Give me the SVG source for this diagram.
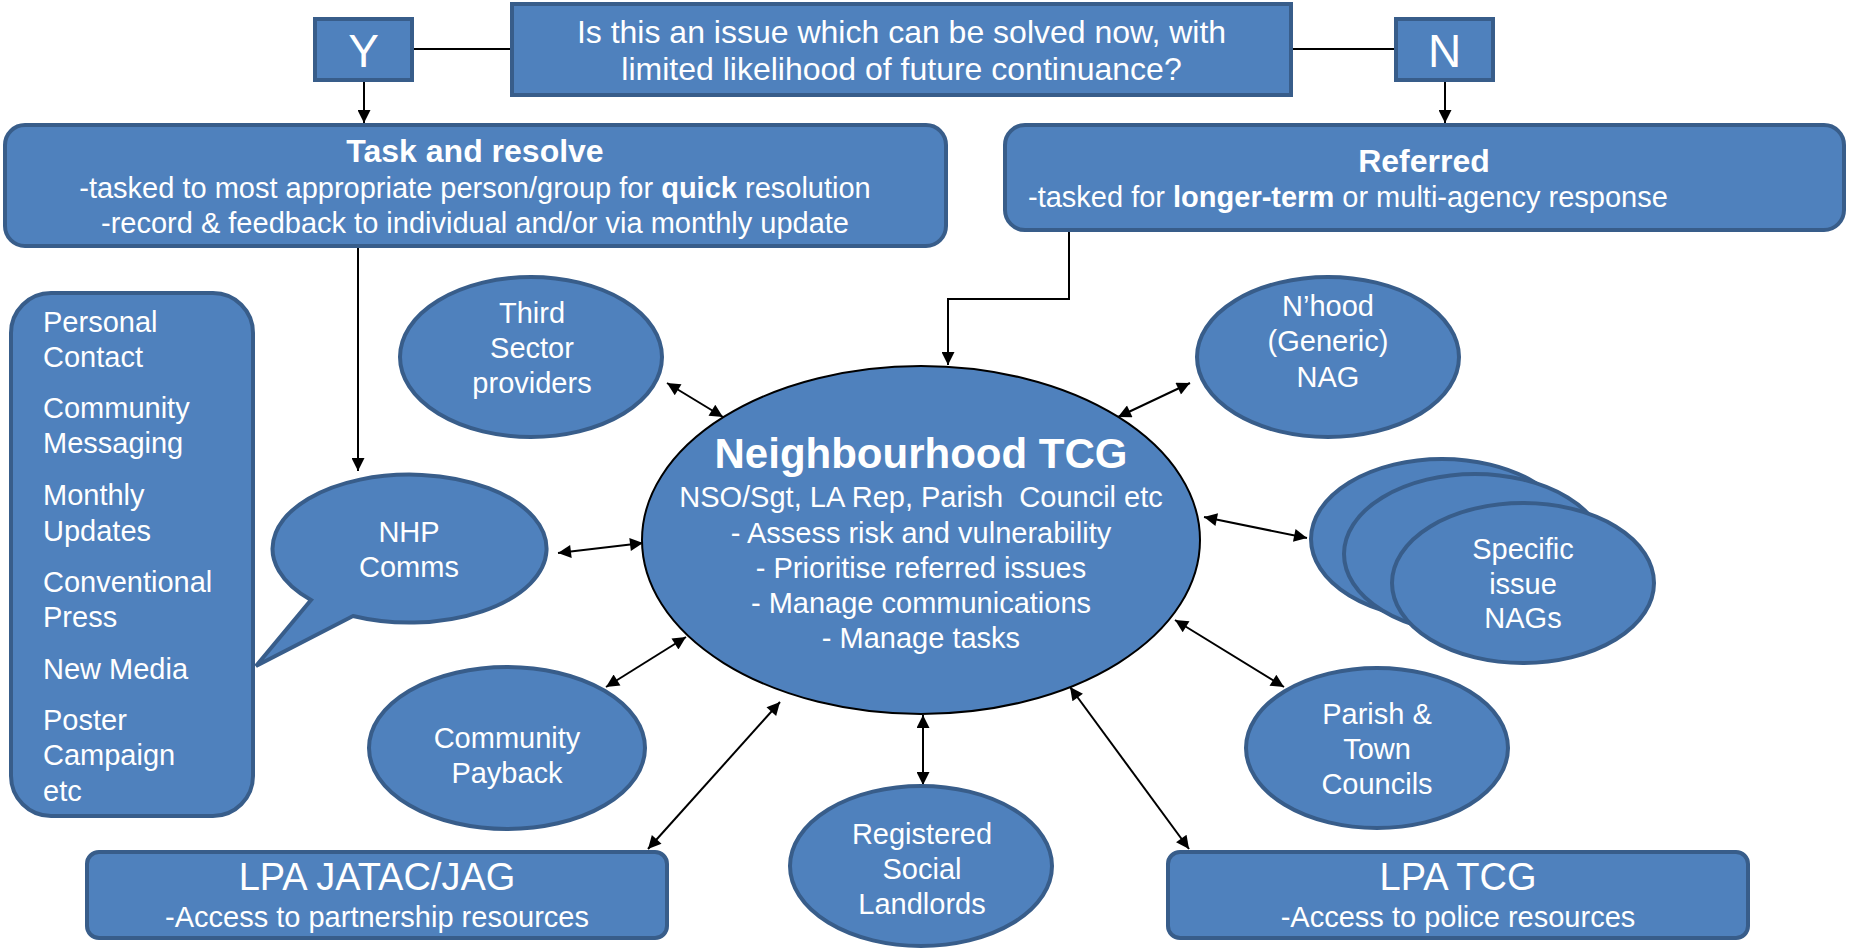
<svg xmlns="http://www.w3.org/2000/svg" width="1853" height="949" viewBox="0 0 1853 949">
<style>
.n{fill:#4F81BD;stroke:#385D8A;stroke-width:4}
.t{fill:#FFFFFF;font-family:"Liberation Sans",Arial,sans-serif;font-size:29px}
.c{text-anchor:middle}
.b{font-weight:bold}
.h{font-weight:bold;font-size:32px}
.ln{stroke:#000;stroke-width:2;fill:none}
.a{marker-end:url(#ah)}
.d{marker-start:url(#ah);marker-end:url(#ah)}
</style>
<defs>
<marker id="ah" viewBox="0 0 10 10" refX="10" refY="5" markerWidth="16" markerHeight="13" markerUnits="userSpaceOnUse" orient="auto-start-reverse">
<path d="M0,0 L10,5 L0,10 z" fill="#000"/>
</marker>
</defs>
<rect width="1853" height="949" fill="#FFFFFF"/>
<g id="connectors">
<line class="ln" x1="414" y1="49" x2="510" y2="49"/>
<line class="ln" x1="1293" y1="49" x2="1394" y2="49"/>
<line class="ln a" x1="364" y1="82" x2="364" y2="123"/>
<line class="ln a" x1="1445" y1="82" x2="1445" y2="123"/>
<line class="ln a" x1="358" y1="248" x2="358" y2="471"/>
<polyline class="ln a" points="1069,231 1069,299 948,299 948,365"/>
<line class="ln d" x1="667" y1="383" x2="723" y2="417"/>
<line class="ln d" x1="1190" y1="383" x2="1118" y2="417"/>
<line class="ln d" x1="558" y1="553" x2="643" y2="543"/>
<line class="ln d" x1="1204" y1="517" x2="1307" y2="538"/>
<line class="ln d" x1="686" y1="637" x2="606" y2="687"/>
<line class="ln d" x1="1175" y1="620" x2="1284" y2="687"/>
<line class="ln d" x1="780" y1="702" x2="648" y2="849"/>
<line class="ln d" x1="923" y1="715" x2="923" y2="785"/>
<line class="ln d" x1="1070" y1="687" x2="1189" y2="849"/>
</g>
<g id="question">
<rect class="n" x="512" y="4" width="779" height="91"/>
<text class="t c" x="901.5" y="43" style="font-size:32px">Is this an issue which can be solved now, with</text>
<text class="t c" x="901.5" y="80" style="font-size:32px">limited likelihood of future continuance?</text>
</g>
<g id="yes">
<rect class="n" x="315" y="19" width="97" height="61"/>
<text class="t c" x="363.5" y="67" style="font-size:46px">Y</text>
</g>
<g id="no">
<rect class="n" x="1396" y="19" width="97" height="61"/>
<text class="t c" x="1444.5" y="67" style="font-size:46px">N</text>
</g>
<g id="task">
<rect class="n" x="5" y="125" width="941" height="121" rx="20"/>
<text class="t c h" x="475" y="162">Task and resolve</text>
<text class="t c" x="475" y="198">-tasked to most appropriate person/group for <tspan class="b">quick</tspan> resolution</text>
<text class="t c" x="475" y="233">-record &amp; feedback to individual and/or via monthly update</text>
</g>
<g id="referred">
<rect class="n" x="1005" y="125" width="839" height="105" rx="20"/>
<text class="t c h" x="1424" y="172">Referred</text>
<text class="t" x="1028" y="207">-tasked for <tspan class="b">longer-term</tspan> or multi-agency response</text>
</g>
<g id="channels">
<rect class="n" x="11" y="293" width="242" height="523" rx="40"/>
<text class="t" x="43" y="332">Personal</text>
<text class="t" x="43" y="367">Contact</text>
<text class="t" x="43" y="418">Community</text>
<text class="t" x="43" y="453">Messaging</text>
<text class="t" x="43" y="505">Monthly</text>
<text class="t" x="43" y="541">Updates</text>
<text class="t" x="43" y="592">Conventional</text>
<text class="t" x="43" y="627">Press</text>
<text class="t" x="43" y="679">New Media</text>
<text class="t" x="43" y="730">Poster</text>
<text class="t" x="43" y="765">Campaign</text>
<text class="t" x="43" y="801">etc</text>
</g>
<g id="third-sector">
<ellipse class="n" cx="531" cy="357" rx="131" ry="80"/>
<text class="t c" x="532" y="323">Third</text>
<text class="t c" x="532" y="358">Sector</text>
<text class="t c" x="532" y="393">providers</text>
</g>
<g id="nhood-nag">
<ellipse class="n" cx="1328" cy="357" rx="131" ry="80"/>
<text class="t c" x="1328" y="316">N’hood</text>
<text class="t c" x="1328" y="351">(Generic)</text>
<text class="t c" x="1328" y="387">NAG</text>
</g>
<g id="nhp-comms">
<path class="n" d="M311,600 L256,666 L353,616 A137,74 0 1 0 311,600 Z"/>
<text class="t c" x="409" y="542">NHP</text>
<text class="t c" x="409" y="577">Comms</text>
</g>
<g id="tcg">
<ellipse cx="921" cy="540" rx="279" ry="174" fill="#4F81BD" stroke="#000" stroke-width="2"/>
<text class="t c b" x="921" y="468" style="font-size:42px">Neighbourhood TCG</text>
<text class="t c" x="921" y="507" xml:space="preserve">NSO/Sgt, LA Rep, Parish  Council etc</text>
<text class="t c" x="921" y="543">- Assess risk and vulnerability</text>
<text class="t c" x="921" y="578">- Prioritise referred issues</text>
<text class="t c" x="921" y="613">- Manage communications</text>
<text class="t c" x="921" y="648">- Manage tasks</text>
</g>
<g id="specific-nags">
<ellipse class="n" cx="1442" cy="539" rx="131" ry="80"/>
<ellipse class="n" cx="1475" cy="554" rx="131" ry="80"/>
<ellipse class="n" cx="1523" cy="583" rx="131" ry="80"/>
<text class="t c" x="1523" y="559">Specific</text>
<text class="t c" x="1523" y="594">issue</text>
<text class="t c" x="1523" y="628">NAGs</text>
</g>
<g id="parish">
<ellipse class="n" cx="1377" cy="748" rx="131" ry="80"/>
<text class="t c" x="1377" y="724">Parish &amp;</text>
<text class="t c" x="1377" y="759">Town</text>
<text class="t c" x="1377" y="794">Councils</text>
</g>
<g id="payback">
<ellipse class="n" cx="507" cy="748" rx="138" ry="81"/>
<text class="t c" x="507" y="748">Community</text>
<text class="t c" x="507" y="783">Payback</text>
</g>
<g id="rsl">
<ellipse class="n" cx="921" cy="866" rx="131" ry="80"/>
<text class="t c" x="922" y="844">Registered</text>
<text class="t c" x="922" y="879">Social</text>
<text class="t c" x="922" y="914">Landlords</text>
</g>
<g id="lpa-jatac">
<rect class="n" x="87" y="852" width="580" height="86" rx="12"/>
<text class="t c" x="377" y="890" style="font-size:38px">LPA JATAC/JAG</text>
<text class="t c" x="377" y="927">-Access to partnership resources</text>
</g>
<g id="lpa-tcg">
<rect class="n" x="1168" y="852" width="580" height="86" rx="12"/>
<text class="t c" x="1458" y="890" style="font-size:38px">LPA TCG</text>
<text class="t c" x="1458" y="927">-Access to police resources</text>
</g>
</svg>
